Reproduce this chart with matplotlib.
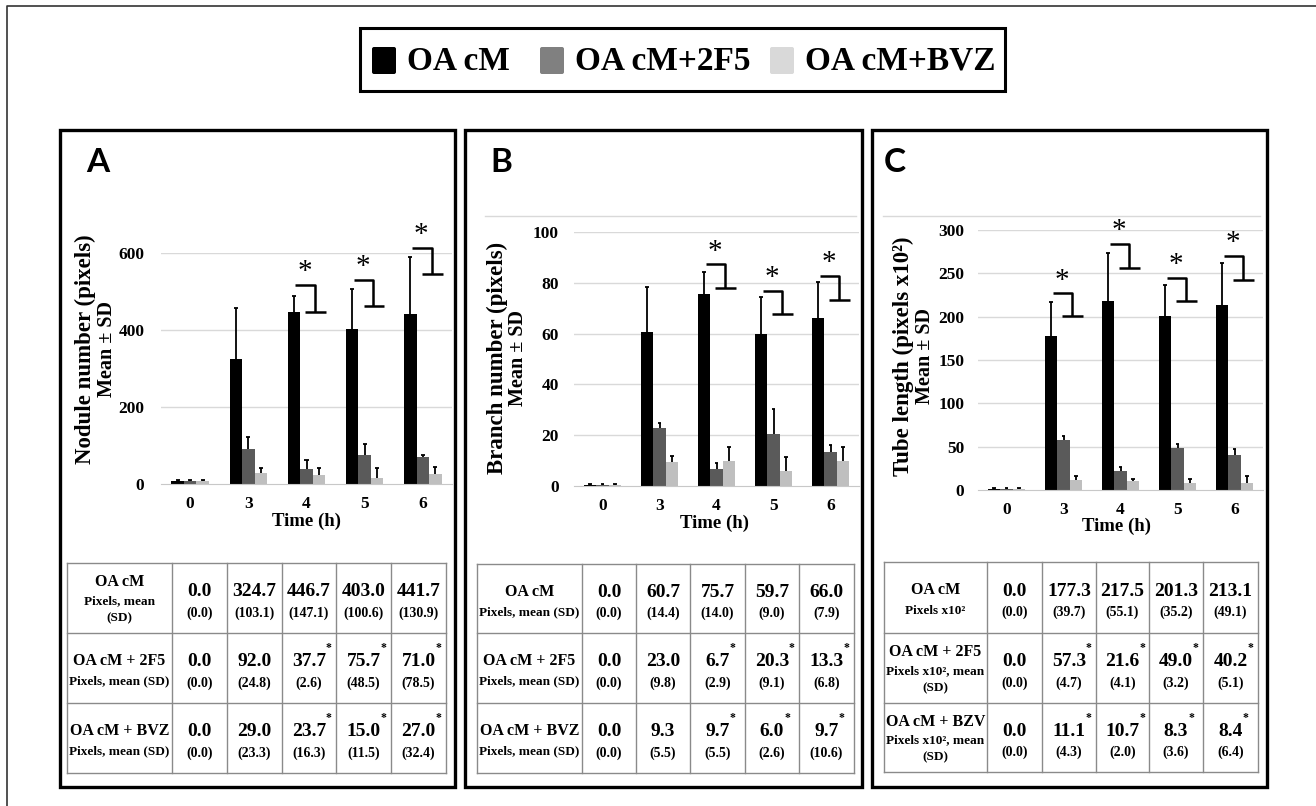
import matplotlib
matplotlib.use('Agg')
import matplotlib.pyplot as plt
from matplotlib.patches import Rectangle, FancyBboxPatch
import numpy as np

# ---------------- data ----------------
times = ['0', '3', '4', '5', '6']
series = ['OA cM', 'OA cM+2F5', 'OA cM+BVZ']

# Panel A – nodule number (bar heights / upper error as drawn)
a_cm = [9, 324.7, 446.7, 403.0, 441.7]
a_2f5 = [9, 92.0, 37.7, 75.7, 71.0]
a_bvz = [9, 29.0, 23.7, 15.0, 27.0]
a_cm_err = [2, 132, 41, 103, 148]
a_2f5_err = [2, 30, 24, 28, 4]
a_bvz_err = [2, 12, 17, 26, 17]
a_sig_idx = [2, 3, 4]
a_sig_top = [517, 530, 613]
a_sig_bot = [447, 462, 545]

# Panel B – branch number
b_cm = [0.5, 60.7, 75.7, 59.7, 66.0]
b_2f5 = [0.5, 23.0, 6.7, 20.3, 13.3]
b_bvz = [0.5, 9.3, 9.7, 6.0, 9.7]
b_cm_err = [0.3, 17.6, 8.6, 14.7, 14.3]
b_2f5_err = [0.3, 1.8, 2.4, 10.0, 2.8]
b_bvz_err = [0.3, 2.5, 5.7, 5.4, 5.7]
b_sig_idx = [2, 3, 4]
b_sig_top = [87.4, 76.8, 82.7]
b_sig_bot = [78.0, 67.7, 73.2]

# Panel C – tube length
c_cm = [1.5, 177.3, 217.5, 201.3, 213.1]
c_2f5 = [1.5, 57.3, 21.6, 49.0, 40.2]
c_bvz = [1.5, 11.1, 10.7, 8.3, 8.4]
c_cm_err = [0.5, 39.7, 55.5, 35.7, 48.9]
c_2f5_err = [0.5, 4.7, 4.9, 4.0, 6.8]
c_bvz_err = [0.5, 4.9, 2.0, 4.4, 7.6]
c_sig_idx = [1, 2, 3, 4]
c_sig_top = [227, 284, 245, 270]
c_sig_bot = [201, 256, 218, 242]

# Tables (mean, SD, significance flag)
ta_mean = [[0.0, 324.7, 446.7, 403.0, 441.7], [0.0, 92.0, 37.7, 75.7, 71.0], [0.0, 29.0, 23.7, 15.0, 27.0]]
ta_sd = [[0.0, 103.1, 147.1, 100.6, 130.9], [0.0, 24.8, 2.6, 48.5, 78.5], [0.0, 23.3, 16.3, 11.5, 32.4]]
ta_star = [[0, 0, 0, 0, 0], [0, 0, 1, 1, 1], [0, 0, 1, 1, 1]]
ta_labels = [["OA cM", "Pixels, mean", "(SD)"], ["OA cM + 2F5", "Pixels, mean (SD)"], ["OA cM + BVZ", "Pixels, mean (SD)"]]

tb_mean = [[0.0, 60.7, 75.7, 59.7, 66.0], [0.0, 23.0, 6.7, 20.3, 13.3], [0.0, 9.3, 9.7, 6.0, 9.7]]
tb_sd = [[0.0, 14.4, 14.0, 9.0, 7.9], [0.0, 9.8, 2.9, 9.1, 6.8], [0.0, 5.5, 5.5, 2.6, 10.6]]
tb_star = [[0, 0, 0, 0, 0], [0, 0, 1, 1, 1], [0, 0, 1, 1, 1]]
tb_labels = [["OA cM", "Pixels, mean (SD)"], ["OA cM + 2F5", "Pixels, mean (SD)"], ["OA cM + BVZ", "Pixels, mean (SD)"]]

tc_mean = [[0.0, 177.3, 217.5, 201.3, 213.1], [0.0, 57.3, 21.6, 49.0, 40.2], [0.0, 11.1, 10.7, 8.3, 8.4]]
tc_sd = [[0.0, 39.7, 55.1, 35.2, 49.1], [0.0, 4.7, 4.1, 3.2, 5.1], [0.0, 4.3, 2.0, 3.6, 6.4]]
tc_star = [[0, 0, 0, 0, 0], [0, 1, 1, 1, 1], [0, 1, 1, 1, 1]]
tc_labels = [["OA cM", "Pixels x10²"], ["OA cM + 2F5", "Pixels x10², mean", "(SD)"], ["OA cM + BZV", "Pixels x10², mean", "(SD)"]]

# ---------------- style ----------------
SERIF = ['Liberation Serif', 'DejaVu Serif']
plt.rcParams['font.family'] = SERIF
plt.rcParams['font.weight'] = 'bold'
BAR_COLORS = ['#000000', '#5a5a5a', '#bfbfbf']
LEG_COLORS = ['#000000', '#808080', '#d9d9d9']
GRID = '#d9d9d9'

W, H = 1316, 806
fig = plt.figure(figsize=(W / 100, H / 100), dpi=100)


def pax(x0, y0, x1, y1):
    return fig.add_axes([x0 / W, 1 - y1 / H, (x1 - x0) / W, (y1 - y0) / H])


def chart(ax, vals, errs, ylim, yticks, sig_idx, sig_top, sig_bot, ypad):
    x = np.arange(len(times))
    bw = 0.214
    offs = [-bw, 0, bw]
    for v, e, c, o in zip(vals, errs, BAR_COLORS, offs):
        v = np.array(v, float)
        e = np.array(e, float)
        ax.bar(x + o, v, width=bw, color=c, zorder=2, linewidth=0)
        ax.vlines(x + o, v, v + e, color='black', lw=1.3, zorder=3)
        ax.hlines(v + e, x + o - 0.035, x + o + 0.035, color='black', lw=1.3, zorder=3)
    ax.set_xlim(-0.5, len(times) - 0.5)
    ax.set_ylim(*ylim)
    ax.set_yticks(yticks)
    ax.set_xticks(x)
    ax.set_xticklabels(times)
    for t in yticks:
        if t > 0:
            ax.axhline(t, color=GRID, lw=1, zorder=0)
    for s in ['top', 'right', 'left']:
        ax.spines[s].set_visible(False)
    ax.spines['bottom'].set_color('#c8c8c8')
    ax.tick_params(axis='both', length=0, labelsize=12.5)
    ax.tick_params(axis='y', pad=ypad)
    ax.tick_params(axis='x', pad=9)
    ax.patch.set_alpha(0)
    for i, t, b in zip(sig_idx, sig_top, sig_bot):
        kw = dict(color='black', lw=1.8, clip_on=False, zorder=4, solid_capstyle='butt')
        ax.plot([i - 0.19, i + 0.15, i + 0.15], [t, t, b], **kw)
        ax.plot([i - 0.02, i + 0.34], [b, b], **kw)
        ax.annotate('*', xy=(i - 0.03, t), xytext=(0, 9), textcoords='offset points',
                    ha='center', va='center', fontsize=21, fontweight='normal',
                    annotation_clip=False)


axA = pax(161, 253, 452, 484)
chart(axA, [a_cm, a_2f5, a_bvz], [a_cm_err, a_2f5_err, a_bvz_err], (0, 600), [0, 200, 400, 600],
      a_sig_idx, a_sig_top, a_sig_bot, 12)
axB = pax(574, 232, 859, 486)
chart(axB, [b_cm, b_2f5, b_bvz], [b_cm_err, b_2f5_err, b_bvz_err], (0, 100), [0, 20, 40, 60, 80, 100],
      b_sig_idx, b_sig_top, b_sig_bot, 11)
axC = pax(978, 230, 1263, 490)
chart(axC, [c_cm, c_2f5, c_bvz], [c_cm_err, c_2f5_err, c_bvz_err], (0, 300), [0, 50, 100, 150, 200, 250, 300],
      c_sig_idx, c_sig_top, c_sig_bot, 10)

# ---------------- overlay (pixel coordinates) ----------------
ov = fig.add_axes([0, 0, 1, 1])
ov.set_xlim(0, W)
ov.set_ylim(H, 0)
ov.axis('off')
ov.patch.set_alpha(0)

# outer thin border
ov.plot([7, 7, W + 5], [H + 5, 6, 6], color='#333333', lw=1.2)

# legend
ov.add_patch(Rectangle((360, 28), 645, 63, fill=False, lw=2.2, ec='black'))
leg_x = [372, 540, 770]
for lx, c, name in zip(leg_x, LEG_COLORS, series):
    ov.add_patch(FancyBboxPatch((lx, 47), 24, 27, boxstyle='round,pad=0,rounding_size=2',
                                fc=c, ec='none'))
    ov.text(lx + 35, 61, name, fontsize=24, fontweight='bold', ha='left', va='center')

# panel borders
for (x0, x1) in [(60, 455), (465, 862), (872, 1267)]:
    ov.add_patch(Rectangle((x0, 130), x1 - x0, 657, fill=False, lw=2.4, ec='black'))

# chart-area top lines (B, C)
ov.plot([485, 856], [216, 216], color=GRID, lw=1)
ov.plot([883, 1260], [216, 216], color=GRID, lw=1)

# panel letters
for lx, ch in [(98, 'A'), (501, 'B'), (895, 'C')]:
    ov.text(lx, 163, ch, fontsize=24, fontweight='bold', family=['Lato', 'DejaVu Sans'],
            ha='center', va='center')

# y labels
for (x1, x2, yc, lab) in [(85, 107, 349, 'Nodule number (pixels)'),
                          (497, 518, 358, 'Branch number (pixels)'),
                          (903, 925, 356, 'Tube length (pixels x10²)')]:
    ov.text(x1, yc, lab, rotation=90, fontsize=16.5, ha='center', va='center')
    ov.text(x2, yc, 'Mean ± SD', rotation=90, fontsize=14.5, ha='center', va='center')

# x labels
for xc, yc in [(306, 521), (714, 523), (1117, 526)]:
    ov.text(xc, yc, 'Time (h)', fontsize=13.5, ha='center', va='center')


def table(colx, rowy, labels, means, sds, stars):
    lc = '#8a8a8a'
    for xx in colx:
        ov.plot([xx, xx], [rowy[0], rowy[-1]], color=lc, lw=1)
    for yy in rowy:
        ov.plot([colx[0], colx[-1]], [yy, yy], color=lc, lw=1)
    for r in range(3):
        rc = (rowy[r] + rowy[r + 1]) / 2
        lines = labels[r]
        offs = [-16, 3, 20] if len(lines) == 3 else [-7, 13.5]
        lxc = (colx[0] + colx[1]) / 2
        for k, (ln, o) in enumerate(zip(lines, offs)):
            ov.text(lxc, rc + o, ln, fontsize=11.5 if k == 0 else 9.5, ha='center', va='center')
        for cidx in range(5):
            cx = (colx[cidx + 1] + colx[cidx + 2]) / 2
            s = f'{means[r][cidx]:.1f}'
            ov.text(cx, rc - 6, s, fontsize=14, ha='center', va='center')
            ov.text(cx, rc + 15, f'({sds[r][cidx]:.1f})', fontsize=10, ha='center', va='center')
            if stars[r][cidx]:
                w = 9.7 * (len(s) - 1) + 4.8
                ov.text(cx + w / 2 + 3, rc - 20, '*', fontsize=8.5, ha='center', va='center')


table([67, 172, 227, 282, 336, 391, 446], [563, 633, 703, 773], ta_labels, ta_mean, ta_sd, ta_star)
table([477, 582, 636, 690, 745, 799, 854], [564, 633, 703, 773], tb_labels, tb_mean, tb_sd, tb_star)
table([884, 987, 1042, 1096, 1149, 1203, 1258], [562, 633, 703, 772], tc_labels, tc_mean, tc_sd, tc_star)

fig.savefig('out.png', dpi=100)
